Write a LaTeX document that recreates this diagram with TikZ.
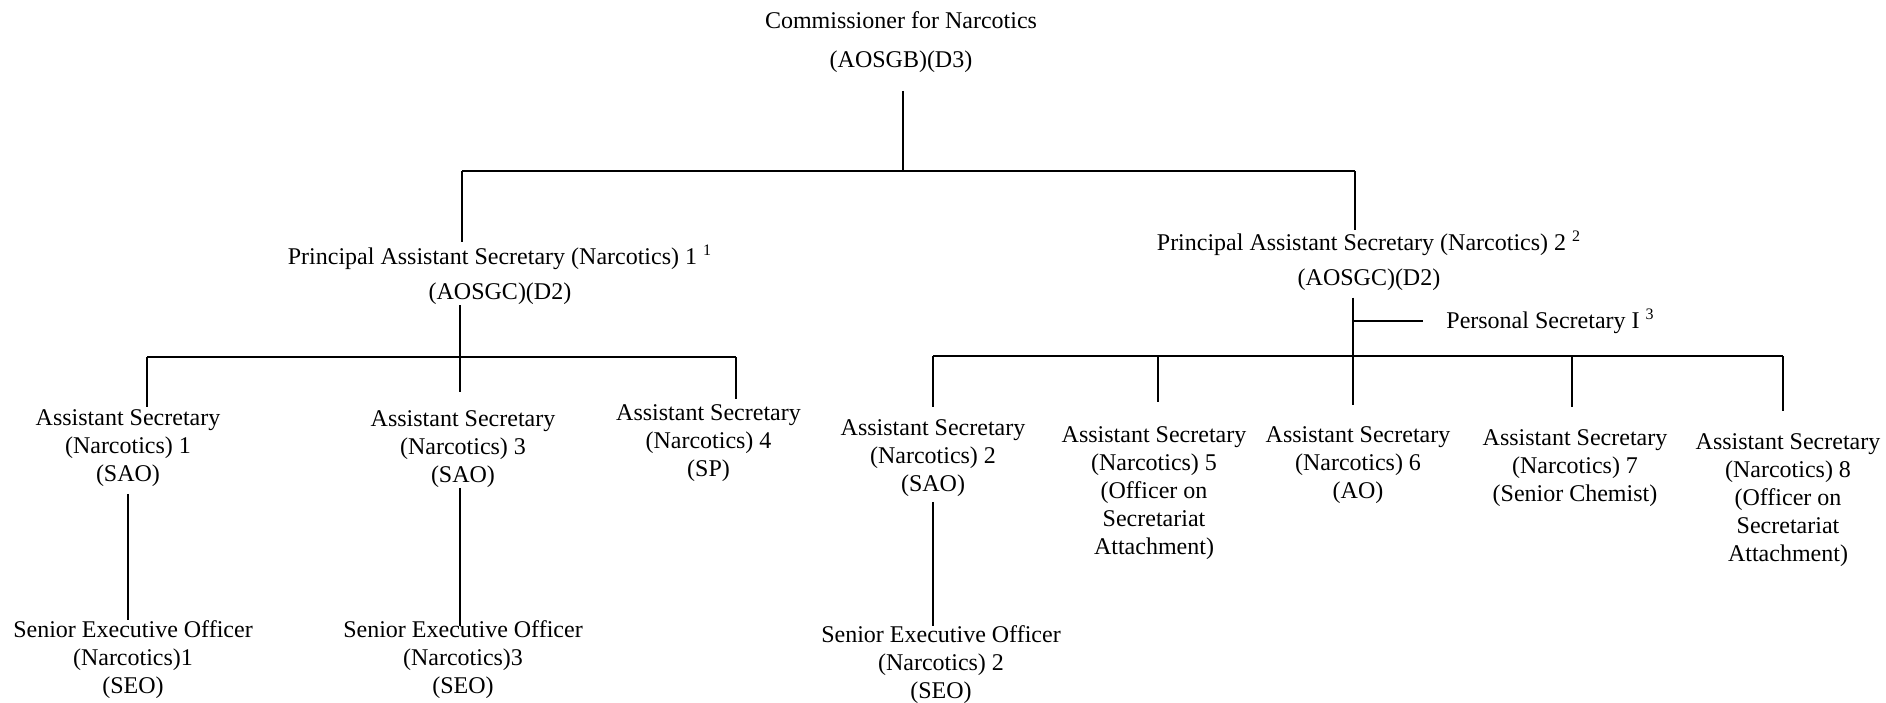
\documentclass[tikz,border=0pt]{standalone}
\usepackage{fontspec}
\setmainfont{Liberation Serif}
\begin{document}
\begin{tikzpicture}[x=0.5pt,y=-0.5pt,
  lbl/.style={font=\fontsize{12}{14}\selectfont, align=center, inner sep=0pt},
  toplbl/.style={lbl, font=\fontsize{12}{19.5}\selectfont},
  paslbl/.style={lbl, font=\fontsize{12}{17.5}\selectfont},
  bar/.style={line width=1pt},
  stem/.style={line width=0.8pt}]
\useasboundingbox (0,0) rectangle (1886,702);

% nodes
\node[toplbl] (comm) at (901,42) {Commissioner for Narcotics\\(AOSGB)(D3)};
\node[paslbl] (pas1) at (500,275) {Principal Assistant Secretary (Narcotics) 1 \textsuperscript{1}\\(AOSGC)(D2)};
\node[paslbl] (pas2) at (1369,260.5) {Principal Assistant Secretary (Narcotics) 2 \textsuperscript{2}\\(AOSGC)(D2)};
\node[lbl, anchor=west] (ps) at (1446,321) {Personal Secretary I \textsuperscript{3}};

\node[lbl] (as1) at (128,448) {Assistant Secretary\\(Narcotics) 1\\(SAO)};
\node[lbl] (as3) at (463,449) {Assistant Secretary\\(Narcotics) 3\\(SAO)};
\node[lbl] (as4) at (708.5,443) {Assistant Secretary\\(Narcotics) 4\\(SP)};
\node[lbl] (as2) at (933,458) {Assistant Secretary\\(Narcotics) 2\\(SAO)};
\node[lbl] (as5) at (1154,493.5) {Assistant Secretary\\(Narcotics) 5\\(Officer on\\Secretariat\\Attachment)};
\node[lbl] (as6) at (1358,465) {Assistant Secretary\\(Narcotics) 6\\(AO)};
\node[lbl] (as7) at (1575,468) {Assistant Secretary\\(Narcotics) 7\\(Senior Chemist)};
\node[lbl] (as8) at (1788,500) {Assistant Secretary\\(Narcotics) 8\\(Officer on\\Secretariat\\Attachment)};

\node[lbl] (seo1) at (133,659.5) {Senior Executive Officer\\(Narcotics)1\\(SEO)};
\node[lbl] (seo3) at (463,659.5) {Senior Executive Officer\\(Narcotics)3\\(SEO)};
\node[lbl] (seo2) at (941,665) {Senior Executive Officer\\(Narcotics) 2\\(SEO)};

% bus coordinates
\coordinate (tbL) at (462,171);
\coordinate (tbM) at (903,171);
\coordinate (tbR) at (1355,171);
\coordinate (lbL) at (147,357);
\coordinate (lbM) at (460,357);
\coordinate (lbR) at (736,357);
\coordinate (rbL) at (933,356);
\coordinate (rb5) at (1158,356);
\coordinate (rb6) at (1353,356);
\coordinate (rb7) at (1572,356);
\coordinate (rbR) at (1783,356);
\coordinate (psj) at (ps.west -| rb6);

% connectors
\draw[stem, shorten <=9pt] (comm.south -| tbM) -- (tbM);
\draw[bar] (tbL) -- (tbR);
\draw[stem, shorten >=1.5pt] (tbL) -- (tbL |- pas1.north);
\draw[stem] (tbR) -- (tbR |- pas2.north);

\draw[stem] (pas1.south -| lbM) -- (lbM);
\draw[bar] (lbL) -- (lbR);
\draw[stem, shorten >=1pt] (lbL) -- (lbL |- as1.north);
\draw[stem, shorten >=9pt] (lbM) -- (lbM |- as3.north);
\draw[stem, shorten >=2.5pt] (lbR) -- (lbR |- as4.north);

\draw[stem, shorten <=3.5pt] (as1.south) -- (as1.south |- seo1.north);
\draw[stem, shorten >=-3pt] (as3.south -| lbM) -- (lbM |- seo3.north);
\draw[stem, shorten <=2.5pt] (as2.south -| rbL) -- (rbL |- seo2.north);

\draw[stem, shorten <=3.5pt, shorten >=10.5pt] (pas2.south -| rb6) -- (rb6 |- as6.north);
\draw[stem, shorten >=11.5pt] (psj) -- (ps.west);
\draw[bar] (rbL) -- (rbR);
\draw[stem, shorten >=6pt] (rbL) -- (rbL |- as2.north);
\draw[stem, shorten >=12.5pt] (rb5) -- (rb5 |- as5.north);
\draw[stem, shorten >=11pt] (rb7) -- (rb7 |- as7.north);
\draw[stem, shorten >=11pt] (rbR) -- (rbR |- as8.north);
\end{tikzpicture}
\end{document}
